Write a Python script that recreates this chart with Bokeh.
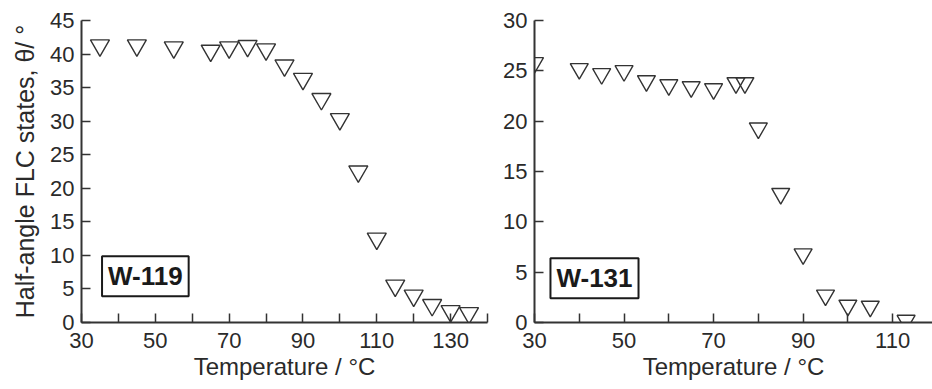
from bokeh.plotting import figure
from bokeh.layouts import row
from bokeh.models import FixedTicker, Label, Range1d
from bokeh.embed import file_html
from bokeh.resources import INLINE

# ---- data ----
temp_w119 = [35, 45, 55, 65, 70, 75, 80, 85, 90, 95, 100, 105, 110, 115, 120, 125, 130, 135]
theta_w119 = [41.3, 41.3, 41.0, 40.5, 41.0, 41.2, 40.7, 38.3, 36.3, 33.3, 30.3, 22.5, 12.5,
              5.5, 4.0, 2.6, 1.7, 1.4]

temp_w131 = [30, 40, 45, 50, 55, 60, 65, 70, 75, 77, 80, 85, 90, 95, 100, 105, 113]
theta_w131 = [25.8, 25.2, 24.7, 25.0, 24.0, 23.6, 23.4, 23.2, 23.8, 23.8, 19.3, 12.8, 6.8,
              2.7, 1.7, 1.6, 0.2]

x_labels_left = [30, 50, 70, 90, 110, 130]
x_minor_left = [40, 60, 80, 100, 120, 140]
y_ticks_left = [0, 5, 10, 15, 20, 25, 30, 35, 40, 45]

x_labels_right = [30, 50, 70, 90, 110]
x_minor_right = [40, 60, 80, 100, 120]
y_ticks_right = [0, 5, 10, 15, 20, 25, 30]

sample_left = "W-119"
sample_right = "W-131"
x_title = "Temperature / °C"
y_title = "Half-angle FLC states, θ/ °"

FONT = "Liberation Sans"
AX = "#333333"
TXT = "#2a2a2a"


def style(p, x_major, x_minor, y_ticks):
    p.xaxis.ticker = FixedTicker(ticks=x_major, minor_ticks=x_minor)
    p.yaxis.ticker = FixedTicker(ticks=y_ticks, minor_ticks=[])
    for ax in (p.xaxis[0], p.yaxis[0]):
        ax.axis_line_color = AX
        ax.axis_line_width = 2
        ax.major_tick_in = 9
        ax.major_tick_out = 0
        ax.minor_tick_in = 9
        ax.minor_tick_out = 0
        ax.major_tick_line_color = AX
        ax.major_tick_line_width = 1.5
        ax.minor_tick_line_color = AX
        ax.minor_tick_line_width = 1.5
        ax.major_label_text_font = FONT
        ax.major_label_text_font_size = "22px"
        ax.major_label_text_color = TXT
        ax.axis_label_text_font = FONT
        ax.axis_label_text_font_size = "24px"
        ax.axis_label_text_font_style = "normal"
        ax.axis_label_text_color = TXT
    p.xaxis.major_label_standoff = 10
    p.yaxis.major_label_standoff = 7
    p.xaxis.axis_label_standoff = 2
    p.xgrid.visible = False
    p.ygrid.visible = False
    p.outline_line_color = None
    p.background_fill_color = "white"
    p.border_fill_color = "white"


def sample_box(p, text, x, y):
    lab = Label(x=x, y=y, text=text, text_align="center", text_baseline="middle",
                text_font=FONT, text_font_size="26px", text_font_style="bold",
                text_color="#1a1a1a",
                border_line_color="#1a1a1a", border_line_width=2,
                background_fill_color="white",
                padding=dict(left=6, right=6, top=5, bottom=5))
    p.add_layout(lab)


left = figure(width=500, height=389, output_backend="svg", toolbar_location=None,
              x_range=Range1d(30, 140), y_range=Range1d(0, 45),
              min_border_left=81, min_border_right=13, min_border_top=20,
              min_border_bottom=67)
style(left, x_labels_left, x_minor_left, y_ticks_left)
left.xaxis.axis_label = x_title
left.yaxis.axis_label = y_title
left.yaxis.axis_label_text_font_size = "25px"
left.yaxis.axis_label_standoff = 8
left.scatter(temp_w119, theta_w119, marker="inverted_triangle", size=19,
             fill_alpha=0, line_color=AX, line_width=1.4)
sample_box(left, sample_left, 47.3, 6.9)

right = figure(width=432, height=389, output_backend="svg", toolbar_location=None,
               x_range=Range1d(30, 118.9), y_range=Range1d(0, 30),
               min_border_left=32, min_border_right=0, min_border_top=20,
               min_border_bottom=67)
style(right, x_labels_right, x_minor_right, y_ticks_right)
right.xaxis.axis_label = x_title
right.scatter(temp_w131, theta_w131, marker="inverted_triangle", size=18,
              fill_alpha=0, line_color=AX, line_width=1.4)
sample_box(right, sample_right, 43.4, 4.4)

layout = row(left, right)
open("out.html", "w").write(file_html(layout, INLINE))
